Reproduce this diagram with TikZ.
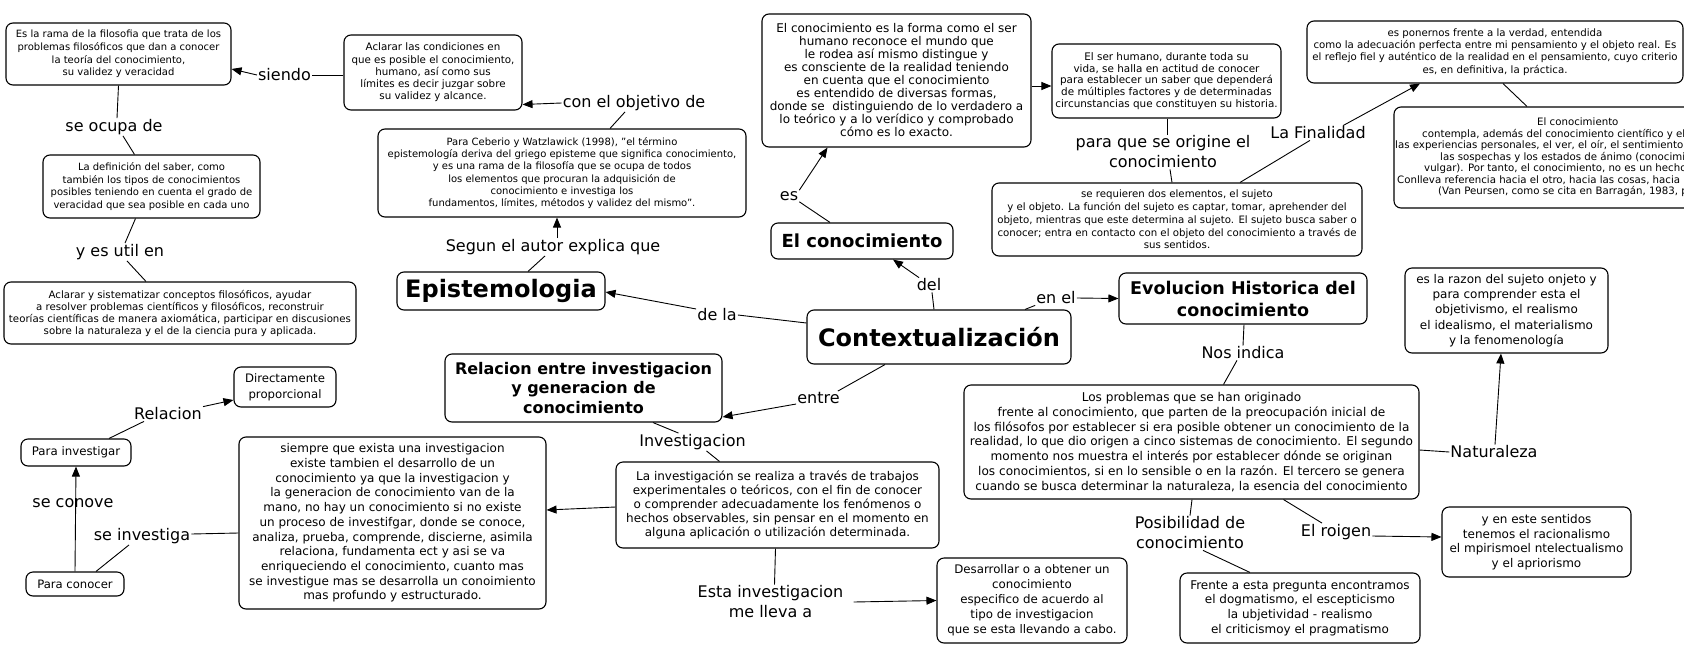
\documentclass[tikz,border=0pt]{standalone}
\usepackage{fontspec}
\setmainfont{DejaVu Sans}
\usetikzlibrary{arrows.meta}
\newcommand{\myfs}[2]{\fontsize{#1}{#2}\selectfont}
\begin{document}
\begin{tikzpicture}[x=1pt,y=-1pt,
  bx/.style={draw, rounded corners=7pt, line width=1.1pt, align=center, inner sep=0pt},
  lbl/.style={inner sep=1pt, align=center, font=\myfs{16}{20}},
  con/.style={line width=0.9pt},
  arr/.style={line width=0.9pt, -{Triangle[length=10pt,width=8pt]}},
  ajl/.style={anchor=base west, inner sep=0pt, font=\myfs{10.2}{12}}]
\fill[white] (0,0) rectangle (1684,667);
\useasboundingbox (0,0) rectangle (1684,667);

% ---------- left top ----------
\node[bx,minimum width=225pt,minimum height=62pt,font=\myfs{10}{12.6}] (A) at (118.5,54)
 {Es la rama de la filosofia que trata de los\\problemas filosóficos que dan a conocer\\la teoría del conocimiento,\\su validez y veracidad};
\node[lbl] (B) at (284.5,75) {siendo};
\node[bx,minimum width=178pt,minimum height=75pt,font=\myfs{10.3}{12.3}] (C) at (433,72.5)
 {Aclarar las condiciones en\\que es posible el conocimiento,\\humano, así como sus\\límites es decir juzgar sobre\\su validez y alcance.};
\node[lbl] (D) at (634,103) {con el objetivo de};
\node[bx,minimum width=368pt,minimum height=88pt,font=\myfs{10}{12.2}] (E) at (562,173)
 {Para Ceberio y Watzlawick (1998), "el término\\epistemología deriva del griego episteme que significa conocimiento,\\y es una rama de la filosofía que se ocupa de todos\\los elementos que procuran la adquisición de\\conocimiento e investiga los\\fundamentos, límites, métodos y validez del mismo".};
\node[lbl] (F) at (553,247) {Segun el autor explica que};
\node[bx,minimum width=208pt,minimum height=38pt,font=\bfseries\myfs{24}{28}] (G) at (501,291) {Epistemologia};
\node[lbl] (H) at (114,127) {se ocupa de};
\node[bx,minimum width=217pt,minimum height=63pt,font=\myfs{10}{12.5}] (I) at (151.5,186.5)
 {La definición del saber, como\\también los tipos de conocimientos\\posibles teniendo en cuenta el grado de\\veracidad que sea posible en cada uno};
\node[lbl] (J) at (120,252) {y es util en};
\node[bx,minimum width=352pt,minimum height=62pt,font=\myfs{10.2}{12}] (K) at (180,313)
 {Aclarar y sistematizar conceptos filosóficos, ayudar\\a resolver problemas científicos y filosóficos, reconstruir\\teorías científicas de manera axiomática, participar en discusiones\\sobre la naturaleza y el de la ciencia pura y aplicada.};

% ---------- left bottom ----------
\node[bx,minimum width=102pt,minimum height=40pt,font=\myfs{11.7}{16}] (L) at (285,387) {Directamente\\proporcional};
\node[lbl] (M) at (168,414) {Relacion};
\node[bx,minimum width=110pt,minimum height=27pt,font=\myfs{11.8}{14}] (N) at (76,452.5) {Para investigar};
\node[lbl] (O) at (73,503) {se conove};
\node[lbl] (P) at (142,536) {se investiga};
\node[bx,minimum width=98pt,minimum height=24pt,font=\myfs{11.6}{14}] (Q) at (75,584) {Para conocer};
\node[bx,minimum width=307pt,minimum height=172pt,font=\myfs{12}{14.7}] (R) at (392.5,523)
 {siempre que exista una investigacion\\existe tambien el desarrollo de un\\conocimiento ya que la investigacion y\\la generacion de conocimiento van de la\\mano, no hay un conocimiento si no existe\\un proceso de investifgar, donde se conoce,\\analiza, prueba, comprende, discierne, asimila\\relaciona, fundamenta ect y asi se va\\enriqueciendo el conocimiento, cuanto mas\\se investigue mas se desarrolla un conoimiento\\mas profundo y estructurado.};

% ---------- centre ----------
\node[bx,minimum width=277pt,minimum height=68pt,font=\bfseries\myfs{16}{19.5}] (S) at (583.5,388)
 {Relacion entre investigacion\\y generacion de\\conocimiento};
\node[lbl] (T) at (692.5,442) {Investigacion};
\node[bx,minimum width=323pt,minimum height=86pt,font=\myfs{12}{14}] (U) at (777.5,505)
 {La investigación se realiza a través de trabajos\\experimentales o teóricos, con el fin de conocer\\o comprender adecuadamente los fenómenos o\\hechos observables, sin pensar en el momento en\\alguna aplicación o utilización determinada.};
\node[lbl] (V) at (770.5,602) {Esta investigacion\\me lleva a};
\node[bx,minimum width=190pt,minimum height=85pt,font=\myfs{11.8}{15}] (W) at (1032,600.5)
 {Desarrollar o a obtener un\\conocimiento\\especifico de acuerdo al\\tipo de investigacion\\que se esta llevando a cabo.};
\node[bx,minimum width=264pt,minimum height=54pt,font=\bfseries\myfs{24}{28}] (X) at (939,337) {Contextualización};
\node[lbl] (Y) at (717,315) {de la};
\node[lbl] (Z) at (818.5,398) {entre};
\node[lbl] (AA) at (929,285) {del};
\node[bx,minimum width=182pt,minimum height=36pt,font=\bfseries\myfs{18}{22}] (AB) at (862,241) {El conocimiento};
\node[lbl] (AC) at (789,196) {es};
\node[bx,minimum width=269pt,minimum height=133pt,font=\myfs{12}{13}] (AD) at (896.5,80.5)
 {El conocimiento es la forma como el ser\\humano reconoce el mundo que\\le rodea así mismo distingue y\\es consciente de la realidad teniendo\\en cuenta que el conocimiento\\es entendido de diversas formas,\\donde se~ distinguiendo de lo verdadero a\\lo teórico y a lo verídico y comprobado\\cómo es lo exacto.};
\node[bx,minimum width=229pt,minimum height=74pt,font=\myfs{10.4}{11.6}] (AE) at (1166.5,81)
 {El ser humano, durante toda su\\vida, se halla en actitud de conocer\\para establecer un saber que dependerá\\de múltiples factores y de determinadas\\circunstancias que constituyen su historia.};
\node[lbl] (AF) at (1163,152) {para que se origine el\\conocimiento};
\node[bx,minimum width=370pt,minimum height=73pt,font=\myfs{10.2}{12.7}] (AG) at (1177,219.5)
 {se requieren dos elementos, el sujeto\\y el objeto. La función del sujeto es captar, tomar, aprehender del\\objeto, mientras que este determina al sujeto. El sujeto busca saber o\\conocer; entra en contacto con el objeto del conocimiento a través de\\sus sentidos.};
\node[lbl] (AH) at (1318,133) {La Finalidad};
\node[bx,minimum width=376pt,minimum height=62pt,font=\myfs{10.2}{12.3}] (AI) at (1495,52)
 {es ponernos frente a la verdad, entendida\\como la adecuación perfecta entre mi pensamiento y el objeto real. Es\\el reflejo fiel y auténtico de la realidad en el pensamiento, cuyo criterio\\es, en definitiva, la práctica.};

\begin{scope}
\clip (0,0) rectangle (1684,667);
\node[bx,minimum width=400pt,minimum height=101pt] (AJ) at (1594,157.5) {};
\node[ajl] (aj1) at (1537,125.5) {El conocimiento};
\node[ajl] (aj2) at (1422,137) {contempla, además del conocimiento científico y el f};
\node[ajl] (aj3) at (1395,148.5) {las experiencias personales, el ver, el oír, el sentimiento};
\node[ajl] (aj4) at (1440,160) {las sospechas y los estados de ánimo (conocimi};
\node[ajl] (aj5) at (1424,171.5) {vulgar). Por tanto, el conocimiento, no es un hecho};
\node[ajl] (aj6) at (1397,183) {Conlleva referencia hacia el otro, hacia las cosas, hacia l};
\node[ajl] (aj7) at (1438,194) {(Van Peursen, como se cita en Barragán, 1983, p};
\end{scope}

% ---------- right ----------
\node[lbl] (AK) at (1056,298) {en el};
\node[bx,minimum width=248pt,minimum height=51pt,font=\bfseries\myfs{17.5}{22}] (AL) at (1243,298.5) {Evolucion Historica del\\conocimiento};
\node[lbl] (AM) at (1243,353) {Nos indica};
\node[bx,minimum width=455pt,minimum height=114pt,font=\myfs{12.1}{14.7}] (AN) at (1191.5,442)
 {Los problemas que se han originado\\frente al conocimiento, que parten de la preocupación inicial de\\los filósofos por establecer si era posible obtener un conocimiento de la\\realidad, lo que dio origen a cinco sistemas de conocimiento. El segundo\\momento nos muestra el interés por establecer dónde se originan\\los conocimientos, si en lo sensible o en la razón. El tercero se genera\\cuando se busca determinar la naturaleza, la esencia del conocimiento};
\node[bx,minimum width=203pt,minimum height=85pt,font=\myfs{12}{15.3}] (AO) at (1506.5,310.5)
 {es la razon del sujeto onjeto y\\para comprender esta el\\objetivismo, el realismo\\el idealismo, el materialismo\\y la fenomenología};
\node[lbl] (AP) at (1494,452) {Naturaleza};
\node[lbl] (AQ) at (1190,533) {Posibilidad de\\conocimiento};
\node[lbl] (AR) at (1336,532) {El roigen};
\node[bx,minimum width=189pt,minimum height=70pt,font=\myfs{12}{14.5}] (AS) at (1536.5,542)
 {y en este sentidos\\tenemos el racionalismo\\el mpirismoel ntelectualismo\\y el apriorismo};
\node[bx,minimum width=240pt,minimum height=70pt,font=\myfs{12}{14.7}] (AT) at (1300,608)
 {Frente a esta pregunta encontramos\\el dogmatismo, el escepticismo\\la ubjetividad - realismo\\el criticismoy el pragmatismo};

% ---------- connectors ----------
\draw[arr] (B.west) -- ([yshift=-15pt]A.east);
\draw[con] ([yshift=-2.5pt]C.west) -- (B.east);
\draw[arr] (D.west) -- ([yshift=-32pt]C.east);
\draw[con] ([xshift=48pt]E.north) -- ([xshift=-9pt]D.south);
\draw[arr] ([xshift=4pt]F.north) -- ([xshift=-5pt]E.south);
\draw[con] ([xshift=27pt]G.north) -- ([xshift=-8pt]F.south);
\draw[con] (A.south) -- ([xshift=3pt]H.north);
\draw[con] ([xshift=9pt]H.south) -- ([xshift=-17pt]I.north);
\draw[con] ([xshift=-16pt]I.south) -- ([xshift=5pt]J.north);
\draw[con] ([xshift=7pt]J.south) -- ([xshift=-34pt]K.north);
\draw[arr] ([yshift=6pt]Y.west) -- ([yshift=-1pt]G.east);
\draw[con] (Y.east) -- ([yshift=14pt]X.west);
\draw[con] ([xshift=-5pt]X.north) -- ([xshift=3pt]AA.south);
\draw[arr] ([xshift=-10pt]AA.north) -- ([xshift=31pt]AB.south);
\draw[con] ([xshift=-32pt]AB.north) -- (AC.south east);
\draw[arr] (AC.north east) -- ([xshift=-69pt]AD.south);
\draw[arr] ([yshift=-5.5pt]AD.east) -- ([yshift=-5pt]AE.west);
\draw[con] ([xshift=0.5pt]AE.south) -- ([xshift=4pt]AF.north);
\draw[con] ([xshift=7pt]AF.south) -- ([xshift=-5pt]AG.north);
\draw[con] ([xshift=63pt]AG.north) -- ([xshift=-8pt]AH.south);
\draw[arr] ([xshift=25pt]AH.north) -- ([xshift=-75pt]AI.south);
\draw[con] ([xshift=8pt]AI.south) -- ([xshift=-67pt]AJ.north);
\draw[con] ([xshift=86pt]X.north) -- (AK.south west);
\draw[arr] (AK.east) -- (AL.west);
\draw[con] ([xshift=1pt]AL.south) -- (AM.north);
\draw[con] ([xshift=-6pt]AM.south) -- ([xshift=32pt]AN.north);
\draw[con] ([yshift=-8pt]AN.east) -- (AP.west);
\draw[arr] ([xshift=1pt]AP.north) -- ([xshift=-5.5pt]AO.south);
\draw[con] ([xshift=0.5pt]AN.south) -- (AQ.north);
\draw[con] ([xshift=13pt]AQ.south) -- ([xshift=-50pt]AT.north);
\draw[con] ([xshift=92pt]AN.south) -- ([xshift=-14pt]AR.north);
\draw[arr] ([yshift=-4pt]AR.east) -- ([yshift=5pt]AS.west);
\draw[con] ([xshift=-54pt]X.south) -- ([xshift=-3pt]Z.north east);
\draw[arr] ([yshift=-6pt]Z.west) -- ([yshift=-29pt]S.east);
\draw[con] ([xshift=69.5pt]S.south) -- ([xshift=-14pt]T.north);
\draw[con] ([xshift=14pt]T.south) -- ([xshift=-58pt]U.north);
\draw[arr] ([yshift=-2pt]U.west) -- ([yshift=13pt]R.east);
\draw[con] ([xshift=-2pt]U.south) -- ([xshift=4pt]V.north);
\draw[arr] ([xshift=9pt]V.east) -- (W.west);
\draw[con] ([yshift=-10pt]R.west) -- ([yshift=2pt]P.east);
\draw[con] ([xshift=-13pt]P.south) -- ([xshift=21pt]Q.north);
\draw[arr] (Q.north) -- (N.south);
\draw[con] ([xshift=33pt]N.north) -- ([xshift=-24pt]M.south);
\draw[arr] (M.north east) -- ([yshift=-13pt]L.west);
\end{tikzpicture}
\end{document}
